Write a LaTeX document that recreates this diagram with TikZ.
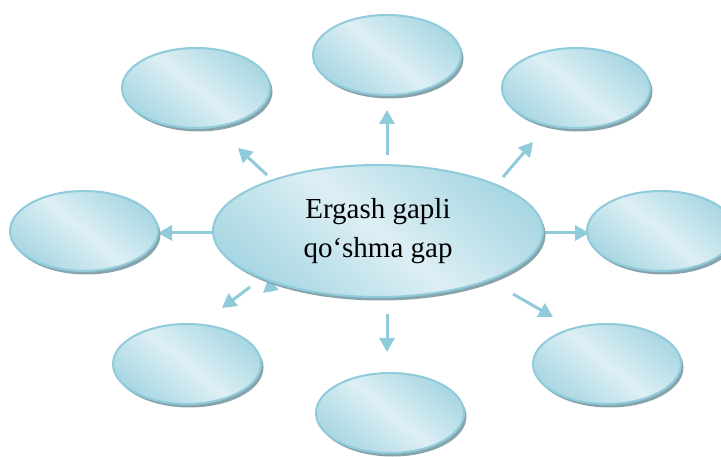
\documentclass[tikz,border=0pt]{standalone}
\usepackage{fontspec}
\setmainfont{Liberation Serif}
\usetikzlibrary{shapes.geometric,arrows.meta,shadows}
\definecolor{bord}{HTML}{8FCBDA}
\definecolor{fdark}{HTML}{A9D7E3}
\definecolor{flight}{HTML}{DDEFF4}
\definecolor{shad}{HTML}{87A3AB}
\begin{document}
\begin{tikzpicture}[x=1pt,y=-1pt,
  bubble/.style={ellipse, draw=bord, line width=2pt,
    left color=fdark, right color=fdark, middle color=flight, shading angle=140,
    inner sep=0pt, minimum width=148pt, minimum height=80pt,
    drop shadow={shadow xshift=2.5pt, shadow yshift=-3.5pt, fill=shad, opacity=1}},
  arr/.style={draw=bord, line width=3pt, -{Triangle[length=14pt,width=15pt]}}
]
\useasboundingbox (0,0) rectangle (721,457);
\clip (0,0) rectangle (721,457);
% arrow end points
\coordinate (tl1) at (267,175); \coordinate (tl2) at (238,148);
\coordinate (t1) at (387,155);  \coordinate (t2) at (387,110);
\coordinate (tr1) at (503,177); \coordinate (tr2) at (533,142);
\coordinate (l1) at (213,233);  \coordinate (l2) at (158,233);
\coordinate (r1) at (545,233);  \coordinate (r2) at (589,233);
\coordinate (bl1) at (250,287); \coordinate (bl2) at (222,308);
\coordinate (b1) at (387,314);  \coordinate (b2) at (387,352);
\coordinate (br1) at (513,294); \coordinate (br2) at (553,317);
\coordinate (h1) at (290,270);  \coordinate (h2) at (263,293);
\foreach \a in {tl,t,tr,l,r,bl,b,br,h} \draw[arr] (\a1) -- (\a2);
% satellites
\node[bubble] (ntl) at (196,88) {};
\node[bubble] (nt) at (387,55) {};
\node[bubble] (ntr) at (576,88) {};
\node[bubble] (nl) at (84,231) {};
\node[bubble] (nr) at (661,231) {};
\node[bubble] (nbl) at (187,364) {};
\node[bubble] (nb) at (390,413) {};
\node[bubble] (nbr) at (607,364) {};
% centre
\node[bubble, minimum width=330pt, minimum height=132pt, align=center,
  font=\fontsize{29}{39}\selectfont] (c) at (378,231) {Ergash gapli\\qo‘shma gap};
\end{tikzpicture}
\end{document}
